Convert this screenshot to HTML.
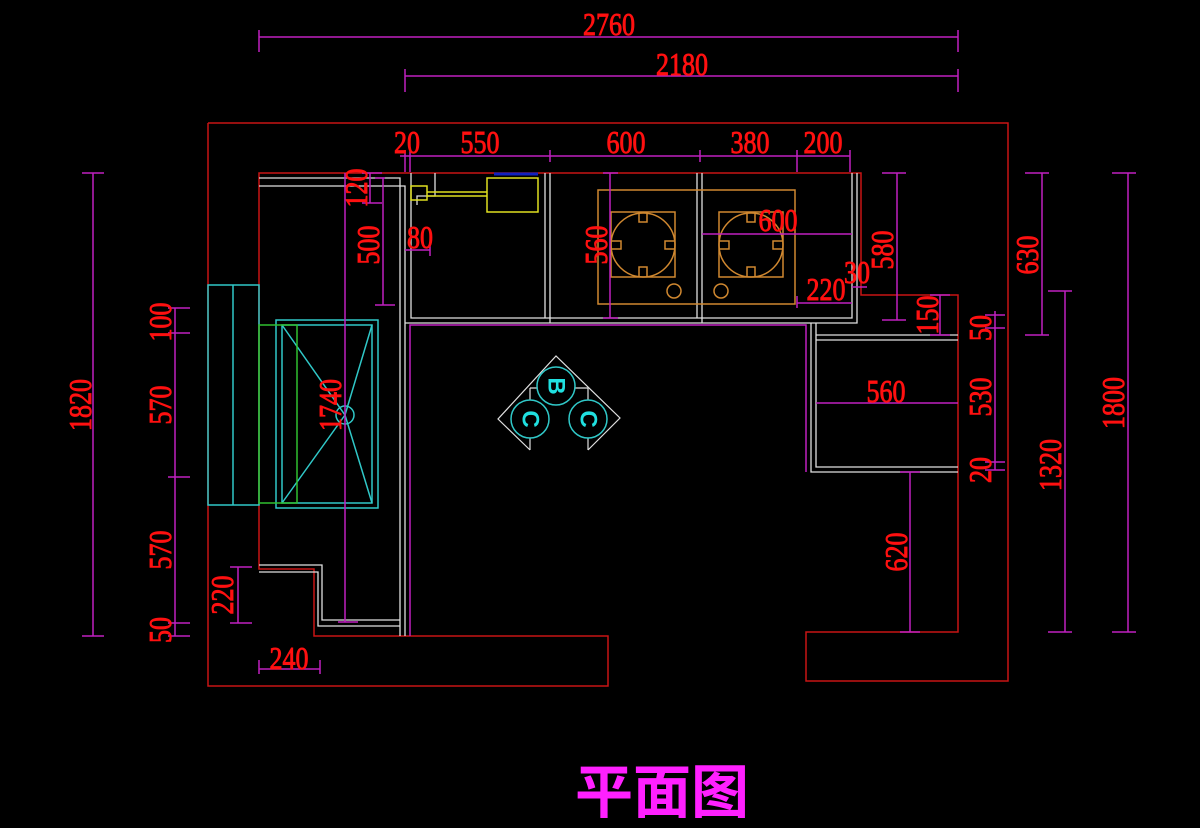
<!DOCTYPE html>
<html><head><meta charset="utf-8"><style>
html,body{margin:0;padding:0;background:#000;}
svg{display:block}
.t{fill:#ff1010;stroke:#ff1010;stroke-width:0.9;font-family:"Liberation Serif",serif;font-size:32px;text-anchor:middle;dominant-baseline:central}
</style></head><body>
<svg width="1200" height="828" viewBox="0 0 1200 828" xmlns="http://www.w3.org/2000/svg">
<rect width="1200" height="828" fill="#000"/>
<g fill="none" stroke-width="1.5">
<g stroke="#c81414">
<polyline points="208,123 1008,123 1008,681 806,681 806,632 958,632 958,295 861,295 861,173 259,173 259,569 314,569 314,636 608,636 608,686 208,686 208,123"/>
</g>
<g stroke="#e0e0e0" stroke-width="1.3">
<polyline points="259,178 400,178 400,636"/>
<polyline points="259,186 405,186 405,636"/>
<polyline points="411,173 411,318 852,318 852,173"/>
<polyline points="405,323 857,323 857,173"/>
<line x1="545" y1="173" x2="545" y2="318"/><line x1="550" y1="173" x2="550" y2="323"/>
<line x1="697" y1="173" x2="697" y2="318"/><line x1="702" y1="173" x2="702" y2="323"/>
<polyline points="417,205 417,196 435,196 435,173"/>
<polyline points="811,323 811,472 958,472"/>
<polyline points="816,323 816,467 958,467"/>
<line x1="816" y1="335" x2="958" y2="335"/><line x1="816" y1="340" x2="958" y2="340"/>
<polyline points="259,565 322,565 322,620 400,620"/>
<polyline points="259,572 318,572 318,626 400,626"/>
</g>
<polyline points="410,636 410,325 806,325 806,472" stroke="#c020c0"/>
<g stroke="#30c8c8">
<rect x="208" y="285" width="51" height="220"/><line x1="233" y1="285" x2="233" y2="505"/>
<rect x="276" y="320" width="102" height="188"/><rect x="282" y="325" width="90" height="178"/>
<polyline points="282,325 345,415 372,325"/><polyline points="282,503 345,415 372,503"/>
<circle cx="345" cy="415" r="9"/>
</g>
<rect x="259" y="325" width="38" height="178" stroke="#30c030"/>
<g stroke="#d08830">
<rect x="598" y="190" width="197" height="114"/>
<rect x="611" y="212" width="64" height="65"/><rect x="719" y="212" width="64" height="65"/>
<circle cx="643" cy="245" r="32"/><circle cx="751" cy="245" r="32"/>
<circle cx="674" cy="291" r="7"/><circle cx="721" cy="291" r="7"/>
<path d="M639,212v10h8v-10M639,277v-10h8v10M611,241h10v8h-10M675,241h-10v8h10"/>
<path d="M747,212v10h8v-10M747,277v-10h8v10M719,241h10v8h-10M783,241h-10v8h10"/>
</g>
<g stroke="#e0e020"><rect x="411" y="186" width="16" height="14"/><rect x="487" y="178" width="51" height="34"/>
<line x1="427" y1="192" x2="487" y2="192"/><line x1="427" y1="196" x2="487" y2="196"/></g>
<line x1="494" y1="174" x2="538" y2="174" stroke="#1020c0" stroke-width="3"/>
<g stroke="#e0e0e0" stroke-width="1.2">
<polyline points="530,450 498,419 556,356 620,418 588,450"/>
<line x1="530" y1="450" x2="530" y2="388"/><line x1="588" y1="450" x2="588" y2="388"/>
<line x1="530" y1="388" x2="588" y2="388"/>
</g>
<g stroke="#30c8c8"><circle cx="556" cy="386" r="19" fill="#000"/><circle cx="530" cy="419" r="19" fill="#000"/><circle cx="588" cy="419" r="19" fill="#000"/></g>
<g stroke="#c020c0" stroke-width="1.5">
<line x1="259" y1="37" x2="958" y2="37"/><line x1="259" y1="30" x2="259" y2="52"/><line x1="958" y1="30" x2="958" y2="52"/>
<line x1="405" y1="76" x2="958" y2="76"/><line x1="405" y1="69" x2="405" y2="92"/><line x1="958" y1="69" x2="958" y2="92"/>
<line x1="400" y1="156" x2="850" y2="156"/>
<path d="M405,150v22M410,150v22M550,150v12M700,150v12M797,150v22M850,150v22"/>
<line x1="93" y1="173" x2="93" y2="636"/><path d="M82,173h22M82,636h22"/>
<line x1="175" y1="308" x2="175" y2="636"/><path d="M168,308h22M168,333h22M168,477h22M168,623h22M168,636h22"/>
<line x1="238" y1="567" x2="238" y2="623"/><path d="M230,567h22M230,623h22"/>
<line x1="259" y1="669" x2="320" y2="669"/><path d="M259,660v14M320,660v14"/>
<line x1="345" y1="173" x2="345" y2="622"/><path d="M338,622h20"/>
<line x1="370" y1="173" x2="370" y2="203"/><path d="M362,173h20M362,203h20"/>
<line x1="383" y1="178" x2="383" y2="305"/><path d="M375,305h20M375,178h10"/>
<line x1="405" y1="250" x2="430" y2="250"/><path d="M430,244v12"/>
<line x1="610" y1="173" x2="610" y2="318"/><path d="M603,173h15M603,318h15"/>
<line x1="702" y1="234" x2="852" y2="234"/>
<line x1="797" y1="303" x2="852" y2="303"/><path d="M797,296v12"/>
<path d="M852,287h10M857,287h10"/>
<line x1="897" y1="173" x2="897" y2="320"/><path d="M882,173h24M882,320h24"/>
<line x1="940" y1="295" x2="940" y2="335"/><path d="M930,295h20M930,335h20"/>
<line x1="995" y1="311" x2="995" y2="470"/><path d="M985,315h20M985,328h20M985,462h20M985,470h20"/>
<line x1="816" y1="403" x2="958" y2="403"/>
<line x1="910" y1="472" x2="910" y2="632"/><path d="M900,472h20M900,632h20"/>
<line x1="1042" y1="173" x2="1042" y2="335"/><path d="M1025,173h24M1025,335h24"/>
<line x1="1065" y1="291" x2="1065" y2="632"/><path d="M1048,291h24M1048,632h24"/>
<line x1="1128" y1="173" x2="1128" y2="632"/><path d="M1112,173h24M1112,632h24"/>
</g>
</g>
<g class="t">
<text x="609" y="24" textLength="52" lengthAdjust="spacingAndGlyphs">2760</text>
<text x="682" y="64" textLength="52" lengthAdjust="spacingAndGlyphs">2180</text>
<text x="407" y="142" textLength="26" lengthAdjust="spacingAndGlyphs">20</text>
<text x="480" y="142" textLength="39" lengthAdjust="spacingAndGlyphs">550</text>
<text x="626" y="142" textLength="39" lengthAdjust="spacingAndGlyphs">600</text>
<text x="750" y="142" textLength="39" lengthAdjust="spacingAndGlyphs">380</text>
<text x="823" y="142" textLength="39" lengthAdjust="spacingAndGlyphs">200</text>
<text x="778" y="220" textLength="39" lengthAdjust="spacingAndGlyphs">600</text>
<text x="826" y="289" textLength="39" lengthAdjust="spacingAndGlyphs">220</text>
<text x="857" y="272" textLength="26" lengthAdjust="spacingAndGlyphs">30</text>
<text x="886" y="391" textLength="39" lengthAdjust="spacingAndGlyphs">560</text>
<text x="289" y="658" textLength="39" lengthAdjust="spacingAndGlyphs">240</text>
<text x="420" y="237" textLength="26" lengthAdjust="spacingAndGlyphs">80</text>
<text transform="translate(80,405) rotate(-90)" textLength="52" lengthAdjust="spacingAndGlyphs">1820</text>
<text transform="translate(160,322) rotate(-90)" textLength="39" lengthAdjust="spacingAndGlyphs">100</text>
<text transform="translate(160,405) rotate(-90)" textLength="39" lengthAdjust="spacingAndGlyphs">570</text>
<text transform="translate(160,550) rotate(-90)" textLength="39" lengthAdjust="spacingAndGlyphs">570</text>
<text transform="translate(160,630) rotate(-90)" textLength="26" lengthAdjust="spacingAndGlyphs">50</text>
<text transform="translate(222,595) rotate(-90)" textLength="39" lengthAdjust="spacingAndGlyphs">220</text>
<text transform="translate(330,405) rotate(-90)" textLength="52" lengthAdjust="spacingAndGlyphs">1740</text>
<text transform="translate(356,188) rotate(-90)" textLength="39" lengthAdjust="spacingAndGlyphs">120</text>
<text transform="translate(368,245) rotate(-90)" textLength="39" lengthAdjust="spacingAndGlyphs">500</text>
<text transform="translate(596,245) rotate(-90)" textLength="39" lengthAdjust="spacingAndGlyphs">560</text>
<text transform="translate(882,250) rotate(-90)" textLength="39" lengthAdjust="spacingAndGlyphs">580</text>
<text transform="translate(927,315) rotate(-90)" textLength="39" lengthAdjust="spacingAndGlyphs">150</text>
<text transform="translate(980,328) rotate(-90)" textLength="26" lengthAdjust="spacingAndGlyphs">50</text>
<text transform="translate(980,397) rotate(-90)" textLength="39" lengthAdjust="spacingAndGlyphs">530</text>
<text transform="translate(980,470) rotate(-90)" textLength="26" lengthAdjust="spacingAndGlyphs">20</text>
<text transform="translate(896,552) rotate(-90)" textLength="39" lengthAdjust="spacingAndGlyphs">620</text>
<text transform="translate(1027,255) rotate(-90)" textLength="39" lengthAdjust="spacingAndGlyphs">630</text>
<text transform="translate(1050,465) rotate(-90)" textLength="52" lengthAdjust="spacingAndGlyphs">1320</text>
<text transform="translate(1113,403) rotate(-90)" textLength="52" lengthAdjust="spacingAndGlyphs">1800</text>
</g>
<g fill="#20e0e0" font-family="Liberation Sans,sans-serif" font-weight="bold" font-size="24" text-anchor="middle" dominant-baseline="central">
<text transform="translate(556,386) rotate(90)">B</text>
<text transform="translate(530,419) rotate(90)">C</text>
<text transform="translate(588,419) rotate(90)">C</text>
</g>
<text x="662" y="793" fill="#ff20ff" font-family="Liberation Sans,'Noto Sans CJK SC',sans-serif" font-weight="bold" font-size="58" text-anchor="middle" dominant-baseline="central">平面图</text>
</svg>
</body></html>
